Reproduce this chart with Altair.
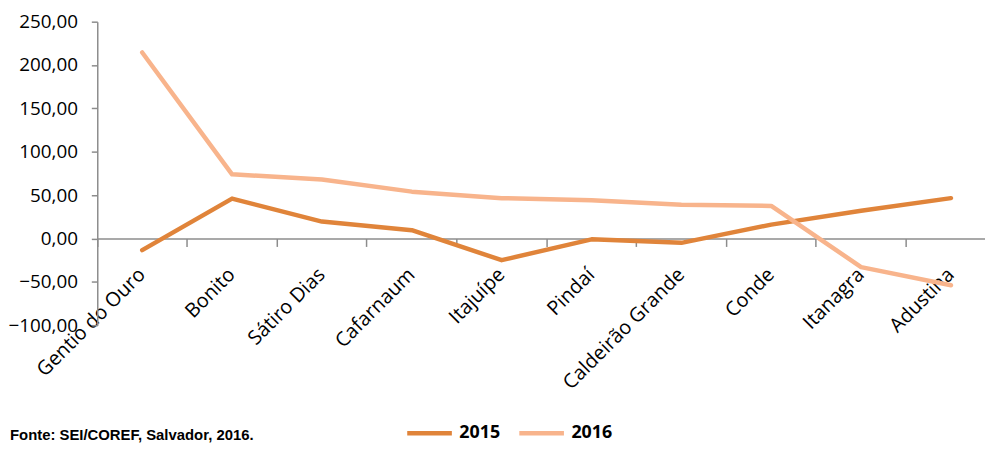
import altair as alt
import pandas as pd

cities = ["Gentio do Ouro", "Bonito", "Sátiro Dias", "Cafarnaum", "Itajuípe",
          "Pindaí", "Caldeirão Grande", "Conde", "Itanagra", "Adustina"]
v2015 = [-13.5, 46, 19.5, 9.5, -25, -1, -5, 16, 32, 46.5]
v2016 = [214.5, 74, 68, 54, 46.5, 44, 39, 37.5, -33, -54]
years = ["2015", "2016"]
colors = ["#E0843A", "#F8B48C"]
y_ticks = [-100, -50, 0, 50, 100, 150, 200, 250]
source_text = "Fonte: SEI/COREF, Salvador, 2016."

rows = []
for c, a, b in zip(cities, v2015, v2016):
    rows.append({"city": c, "year": "2015", "value": a})
    rows.append({"city": c, "year": "2016", "value": b})
df = pd.DataFrame(rows)
src = pd.DataFrame({"t": [source_text]})

FONT = "Open Sans"
PLOT_H = 306
zero_offset = -(PLOT_H - PLOT_H * 250 / 350)

lines = alt.Chart(df).mark_line(strokeWidth=4.5, strokeCap="round", strokeJoin="round").encode(
    x=alt.X("city:N", sort=cities, bandPosition=0.5,
            scale=alt.Scale(type="band", range=[0, 906], paddingInner=0, paddingOuter=0),
            axis=alt.Axis(title=None, bandPosition=0, offset=zero_offset,
                          labelAngle=-45, labelAlign="right", labelBaseline="middle",
                          labelFont=FONT, labelFontSize=20, labelColor="#000000",
                          labelPadding=25, tickSize=8, tickColor="#8C8C8C",
                          domainColor="#8C8C8C", domainWidth=1.5, tickWidth=1.5,
                          grid=False, labelOverlap=False)),
    y=alt.Y("value:Q",
            scale=alt.Scale(domain=[-100, 250], nice=False, zero=False),
            axis=alt.Axis(title=None, values=y_ticks,
                          labelExpr="replace(format(datum.value, '.2f'), '.', ',')",
                          labelFont=FONT, labelFontSize=19, labelColor="#000000",
                          labelPadding=14, tickSize=6, tickColor="#8C8C8C",
                          domainColor="#8C8C8C", domainWidth=1.5, tickWidth=1.5,
                          grid=False)),
    color=alt.Color("year:N", scale=alt.Scale(domain=years, range=colors),
                    legend=alt.Legend(title=None, orient="none", direction="horizontal",
                                      legendX=310, legendY=390, symbolType="stroke",
                                      symbolSize=2025, symbolStrokeWidth=4.5,
                                      labelFont=FONT, labelFontSize=18,
                                      labelFontWeight="bold", labelColor="#000000",
                                      labelOffset=5, columnPadding=9)),
)

note = alt.Chart(src).mark_text(align="left", baseline="top", font="Liberation Sans",
                                fontSize=15, fontWeight="bold", color="#000000").encode(
    text="t:N", x=alt.value(-88), y=alt.value(410)
)

chart = alt.layer(lines, note).properties(
    width=895, height=PLOT_H,
    autosize=alt.AutoSizeParams(type="none"),
    padding={"left": 90, "top": 12, "right": 0, "bottom": 120},
).configure_view(stroke=None)

chart.save("out.html", embed_options={"renderer": "svg", "actions": False})
